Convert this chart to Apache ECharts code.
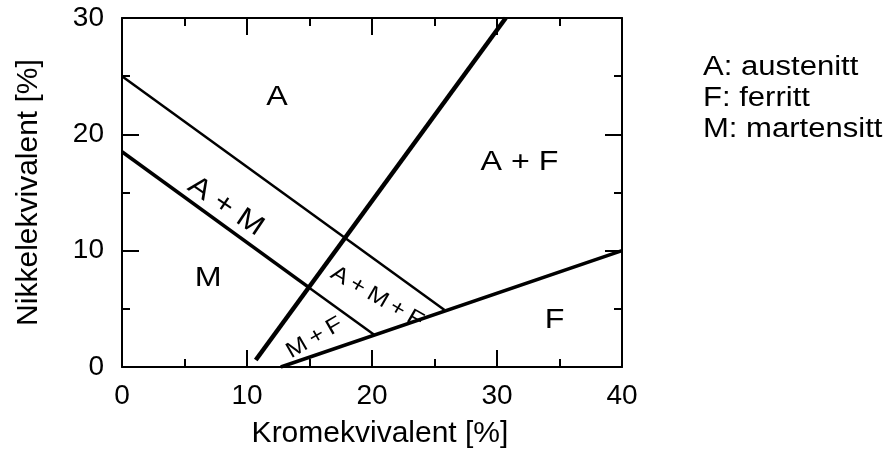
<!DOCTYPE html>
<html>
<head>
<meta charset="utf-8">
<script src="https://cdn.jsdelivr.net/npm/echarts@6/dist/echarts.min.js"></script>
<style>
  html, body { margin: 0; padding: 0; background: #fff; }
  #chart { width: 894px; height: 454px; }
</style>
</head>
<body>
<div id="chart"></div>
<script>
// Schaeffler-type constitution diagram: phase boundaries in Cr/Ni-equivalent space

// Austenite upper boundary (A / A+M, A / A+M+F)
const austeniteX = [0, 25.8];
const austeniteY = [25, 4.9];

// Martensite boundary, steep part (M / A+M)
const martensiteX = [0, 15];
const martensiteY = [18.5, 6.8];

// Martensite boundary continued (M+F / A+M+F)
const martensiteTailX = [15, 20.2];
const martensiteTailY = [6.8, 2.75];

// Ferrite start line (x+F regions to the right)
const ferriteStartX = [10.7, 30.7];
const ferriteStartY = [0.6, 30];

// Fully ferritic boundary
const ferriteFullX = [12.7, 40];
const ferriteFullY = [0, 10];

// Region names and anchor points (Cr-eq, Ni-eq)
const regionNames = ['A', 'A + M', 'A + F', 'M', 'A\u2009+\u2009M\u2009+\u2009F', 'M\u2009+\u2009F', 'F'];
const regionCr = [12.4, 8.3, 31.8, 6.9, 20.4, 15.4, 34.6];
const regionNi = [23.2, 13.8, 17.6, 7.6, 6.0, 2.5, 4.0];
const regionRotate = [0, -34, 0, 0, -30, 30, 0];
const regionSize = [28, 28, 28, 28, 22, 22, 28];

// Phase legend lines
const legendLines = ['A: austenitt', 'F: ferritt', 'M: martensitt'];

const xTicks = [0, 10, 20, 30, 40];
const yTicks = [0, 10, 20, 30];

const FONT = '"Liberation Sans", Arial, sans-serif';
const STRETCH = 1.15;

function pairs(xs, ys) { return xs.map((x, i) => [x, ys[i]]); }

function lineSeries(xs, ys, width) {
  return {
    type: 'line',
    data: pairs(xs, ys),
    symbol: 'none',
    silent: true,
    lineStyle: { color: '#000', width: width, cap: 'butt' },
    z: 3
  };
}

function axisBase() {
  return {
    min: 0,
    interval: 10,
    axisLine: { show: true, onZero: false, lineStyle: { color: '#000', width: 2 } },
    axisTick: { show: true, inside: true, length: 17, lineStyle: { color: '#000', width: 2 } },
    minorTick: { show: true, splitNumber: 2, length: 8, lineStyle: { color: '#000', width: 2 } },
    splitLine: { show: false },
    minorSplitLine: { show: false }
  };
}

const chart = echarts.init(document.getElementById('chart'), null, { renderer: 'canvas' });

const option = {
  animation: false,
  backgroundColor: '#fff',
  grid: { left: 122, top: 18, right: 272, bottom: 86, containLabel: false },
  xAxis: [
    Object.assign(axisBase(), {
      type: 'value', max: 40, position: 'bottom',
      name: 'Kromekvivalent [%]', nameLocation: 'middle', nameGap: 52,
      nameTextStyle: { fontFamily: FONT, fontSize: 30, color: '#000', padding: [0, 0, 0, 16] },
      axisLabel: {
        fontFamily: FONT, fontSize: 28, color: '#000', margin: 15,
        formatter: v => (xTicks.indexOf(v) >= 0 ? String(v) : '')
      }
    }),
    Object.assign(axisBase(), {
      type: 'value', max: 40, position: 'top',
      axisLabel: { show: false }
    })
  ],
  yAxis: [
    Object.assign(axisBase(), {
      type: 'value', max: 30, position: 'left',
      name: 'Nikkelekvivalent [%]', nameLocation: 'middle', nameGap: 78,
      nameTextStyle: { fontFamily: FONT, fontSize: 30, color: '#000' },
      axisLabel: {
        fontFamily: FONT, fontSize: 28, color: '#000', margin: 18,
        formatter: v => (yTicks.indexOf(v) >= 0 ? String(v) : '')
      }
    }),
    Object.assign(axisBase(), {
      type: 'value', max: 30, position: 'right',
      axisLabel: { show: false }
    })
  ],
  series: [
    lineSeries(austeniteX, austeniteY, 2.5),
    lineSeries(martensiteX, martensiteY, 3.5),
    lineSeries(martensiteTailX, martensiteTailY, 2.5),
    lineSeries(ferriteStartX, ferriteStartY, 4.5),
    lineSeries(ferriteFullX, ferriteFullY, 3.5)
  ]
};

chart.setOption(option);

// Region names placed through the grid's coordinate system, plus the phase key
const regionGraphics = regionNames.map((name, i) => {
  const p = chart.convertToPixel({ gridIndex: 0 }, [regionCr[i], regionNi[i]]);
  return {
    type: 'text',
    x: p[0],
    y: p[1],
    rotation: regionRotate[i] * Math.PI / 180,
    scaleX: STRETCH,
    z: 10,
    style: {
      text: name,
      fontFamily: FONT,
      fontSize: regionSize[i],
      fill: '#000',
      align: 'center',
      verticalAlign: 'middle'
    }
  };
});

const legendGraphics = legendLines.map((t, i) => ({
  type: 'text',
  x: 703,
  y: 68 + i * 31,
  scaleX: STRETCH,
  z: 10,
  style: {
    text: t,
    fontFamily: FONT,
    fontSize: 27,
    fill: '#000',
    align: 'left',
    verticalAlign: 'middle'
  }
}));

chart.setOption({ graphic: regionGraphics.concat(legendGraphics) });
</script>
</body>
</html>
